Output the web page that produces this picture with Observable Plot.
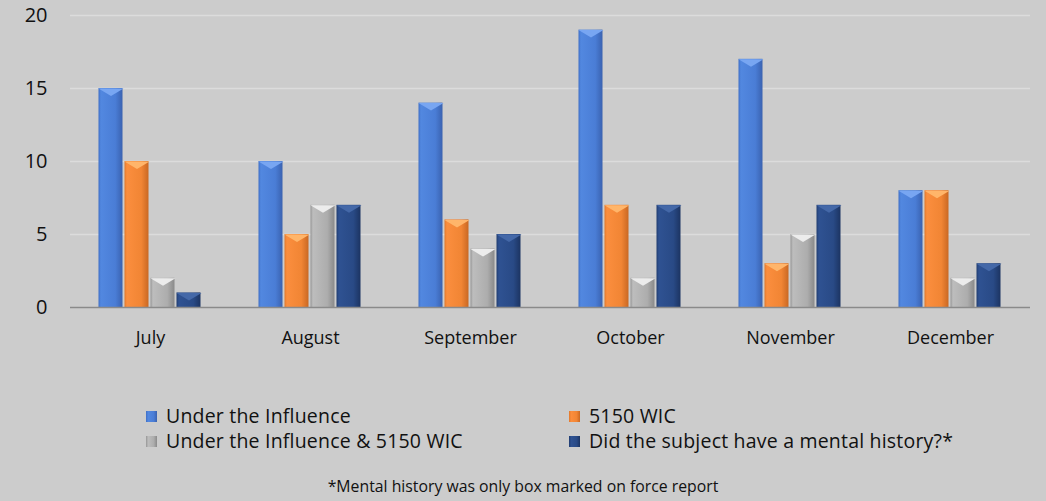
<!DOCTYPE html>
<html>
<head>
<meta charset="utf-8">
<script src="https://cdn.jsdelivr.net/npm/d3@7"></script>
<script src="https://cdn.jsdelivr.net/npm/@observablehq/plot@0.6"></script>
<style>
  html, body { margin: 0; padding: 0; background: #cccccc; }
  body { width: 1046px; height: 501px; position: relative; overflow: hidden; font-family: "Open Sans", sans-serif; color: #111; }
  #chart { position: absolute; left: 0; top: 0; }
  .leg { position: absolute; font-size: 19.5px; letter-spacing: 0.2px; line-height: 24px; white-space: nowrap; display: flex; align-items: center; }
  .sw { width: 11px; height: 11px; margin-right: 9px; display: inline-block; }
  #caption { position: absolute; left: 0; width: 1046px; text-align: center; top: 474px; font-size: 15.8px; line-height: 24px; }
</style>
</head>
<body>
<div id="chart"></div>
<div id="legend"></div>
<div id="caption"></div>
<script>
const months = ["July", "August", "September", "October", "November", "December"];
const seriesNames = ["Under the Influence", "5150 WIC", "Under the Influence & 5150 WIC", "Did the subject have a mental history?*"];
const underInfluence = [15, 10, 14, 19, 17, 8];
const wic5150 = [10, 5, 6, 7, 3, 8];
const underInfluenceAndWic = [2, 7, 4, 2, 5, 2];
const mentalHistory = [1, 7, 5, 7, 7, 3];
const yTicks = [0, 5, 10, 15, 20];
const captionText = "*Mental history was only box marked on force report";

const seriesValues = [underInfluence, wic5150, underInfluenceAndWic, mentalHistory];
const data = [];
months.forEach((m, i) => seriesValues.forEach((vals, s) => data.push({month: m, series: seriesNames[s], value: vals[i]})));

const grads = [
  ["#3f6fc6", "#5288e0", "#4a7dd6", "#3a62b0"],
  ["#e0782c", "#fb8e3e", "#f18534", "#c96823"],
  ["#969696", "#bdbdbd", "#adadad", "#8a8a8a"],
  ["#203c70", "#2f5292", "#294a86", "#1c3462"]
];
const topColors = ["#78a6f2", "#ffb56a", "#ececec", "#4468a8"];
const fills = grads.map((g, i) => `url(#grad${i})`);

const flatTriangle = {
  draw(context) {
    context.moveTo(-12.5, -3.5);
    context.lineTo(12.5, -3.5);
    context.lineTo(0, 4);
    context.closePath();
  }
};

const chart = Plot.plot({
  width: 1046,
  height: 360,
  marginLeft: 69,
  marginRight: 15,
  marginTop: 15,
  marginBottom: 53,
  style: {background: "#cccccc", fontFamily: "'Open Sans', sans-serif", fontSize: "17px", color: "#111"},
  fx: {domain: months, padding: 0, label: null},
  x: {domain: seriesNames, paddingInner: 0.03, paddingOuter: 1.02, axis: null},
  y: {domain: [0, 20], label: null},
  color: {domain: seriesNames, range: fills},
  marks: [
    Plot.ruleY(yTicks.filter(t => t > 0), {stroke: "#dcdcdc", strokeWidth: 1.5}),
    Plot.barY(data, {fx: "month", x: "series", y: "value", fill: "series", inset: 0, insetLeft: 0.5, insetRight: 0.5}),
    Plot.dot(data, {fx: "month", x: "series", y: "value", symbol: flatTriangle, fill: (d) => topColors[seriesNames.indexOf(d.series)], stroke: "none", dy: 3.5, r: 1}),
    Plot.ruleY([0], {stroke: "#8a8a8a", strokeWidth: 1.5}),
    Plot.axisY(yTicks, {tickSize: 0, tickPadding: 23, label: null, fontSize: 20, letterSpacing: 1}),
    Plot.axisFx({anchor: "bottom", tickSize: 0, tickPadding: 24, label: null, fontSize: 18, letterSpacing: 1.2})
  ]
});

const ns = "http://www.w3.org/2000/svg";
const defs = document.createElementNS(ns, "defs");
grads.forEach((g, i) => {
  const lg = document.createElementNS(ns, "linearGradient");
  lg.setAttribute("id", `grad${i}`);
  lg.setAttribute("x1", "0"); lg.setAttribute("x2", "1"); lg.setAttribute("y1", "0"); lg.setAttribute("y2", "0");
  [[0, g[0]], [0.1, g[1]], [0.7, g[2]], [1, g[3]]].forEach(([o, c]) => {
    const st = document.createElementNS(ns, "stop");
    st.setAttribute("offset", o);
    st.setAttribute("stop-color", c);
    lg.appendChild(st);
  });
  defs.appendChild(lg);
});
chart.insertBefore(defs, chart.firstChild);
document.getElementById("chart").appendChild(chart);

// Legend
const legend = document.getElementById("legend");
const legPos = [[146, 404], [569, 404], [146, 429], [569, 429]];
seriesNames.forEach((name, i) => {
  const item = document.createElement("div");
  item.className = "leg";
  item.style.left = legPos[i][0] + "px";
  item.style.top = legPos[i][1] + "px";
  const sw = document.createElement("span");
  sw.className = "sw";
  sw.style.background = `linear-gradient(to right, ${grads[i][0]}, ${grads[i][1]} 20%, ${grads[i][2]} 70%, ${grads[i][3]})`;
  item.appendChild(sw);
  item.appendChild(document.createTextNode(name));
  legend.appendChild(item);
});
document.getElementById("caption").textContent = captionText;
</script>
</body>
</html>
